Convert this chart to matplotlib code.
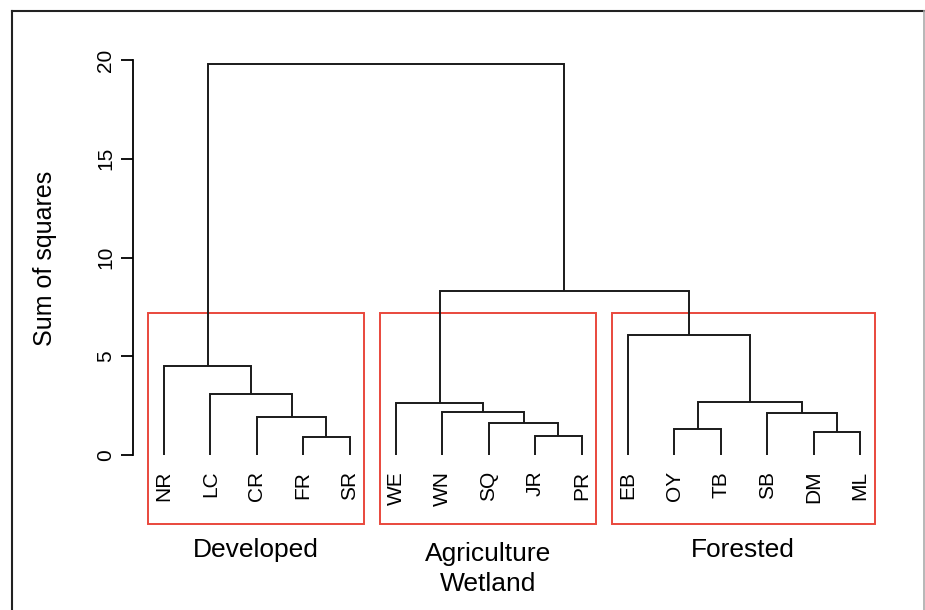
import matplotlib
matplotlib.use("Agg")
import matplotlib.pyplot as plt
from matplotlib.lines import Line2D
from matplotlib.patches import Rectangle

plt.rcParams['font.family'] = ['Liberation Sans', 'DejaVu Sans']

# leaves in plotting order
leaves = ["NR", "LC", "CR", "FR", "SR", "WE", "WN", "SQ", "JR", "PR",
          "EB", "OY", "TB", "SB", "DM", "ML"]

# merges: (left, right, height); strings are leaves, ints are earlier merges (1-based)
merge_left = ["FR", "CR", "LC", "NR", "JR", "SQ", "WN", "WE", "DM", "OY", "SB", 10, "EB", 8, 4]
merge_right = ["SR", 1, 2, 3, "PR", 5, 6, 7, "ML", "TB", 9, 11, 12, 13, 14]
merge_height = [0.93, 1.91, 3.07, 4.52, 0.96, 1.64, 2.19, 2.62, 1.15, 1.30, 2.11, 2.70, 6.08, 8.32, 19.8]

# groups drawn as red boxes
group_names = ["Developed", "Agriculture\nWetland", "Forested"]
group_first = ["NR", "WE", "EB"]
group_last = ["SR", "PR", "ML"]

fig = plt.figure(figsize=(9.25, 6.1), dpi=100)
ax = fig.add_axes([0, 0, 1, 1])

# pixel layout -> data limits
x0px, dx = 164, 46.4
y0px, dy = 455, 19.75
ax.set_xlim(1 - x0px / dx, 1 + (925 - x0px) / dx)
ax.set_ylim((y0px - 610) / dy, y0px / dy)

pos = {name: i + 1 for i, name in enumerate(leaves)}
hgt = {name: 0.0 for name in leaves}
lw = 1.4
for k, (a, b, h) in enumerate(zip(merge_left, merge_right, merge_height), start=1):
    xa, xb = pos[a], pos[b]
    ax.plot([xa, xa, xb, xb], [hgt[a], h, h, hgt[b]], color="#1a1a1a", lw=lw,
            solid_joinstyle="miter", solid_capstyle="butt")
    pos[k] = (xa + xb) / 2
    hgt[k] = h

for name in leaves:
    ax.text(pos[name], -0.8, name, rotation=90, ha="center", va="top", fontsize=15)

# red boxes and group labels
for name, first, last in zip(group_names, group_first, group_last):
    left = pos[first] - 0.35
    right = pos[last] + 0.32
    ax.add_patch(Rectangle((left, -3.5), right - left, 10.7, fill=False,
                           edgecolor="#e9483c", lw=1.4))
    yt = -5.78 if "\n" in name else -4.8
    ax.text((left + right) / 2, yt, name, ha="center", va="center", fontsize=19,
            linespacing=1.3)

# y axis like R
for s in ["top", "right", "bottom"]:
    ax.spines[s].set_visible(False)
ax.spines["left"].set_position(("data", 1 + (133 - x0px) / dx))
ax.spines["left"].set_bounds(0, 20)
ax.spines["left"].set_linewidth(1.3)
ax.set_xticks([])
ax.set_yticks([0, 5, 10, 15, 20])
ax.tick_params(axis="y", direction="out", length=9, width=1.3, pad=4,
               labelsize=15, labelrotation=90)
for t in ax.get_yticklabels():
    t.set_va("center")
fig.text(45 / 925, 1 - 258 / 610, "Sum of squares", rotation=90, ha="center",
         va="center", fontsize=18)

# outer frame of the figure
fig.add_artist(Line2D([11.5 / 925, 11.5 / 925], [0, 1 - 10.5 / 610], color="#222222", lw=1.5))
fig.add_artist(Line2D([11.5 / 925, 924 / 925], [1 - 10.5 / 610, 1 - 10.5 / 610], color="#222222", lw=1.5))
fig.add_artist(Line2D([924 / 925, 924 / 925], [0, 1 - 10.5 / 610], color="#aaaaaa", lw=1.2))

fig.savefig("out.png", dpi=100)
